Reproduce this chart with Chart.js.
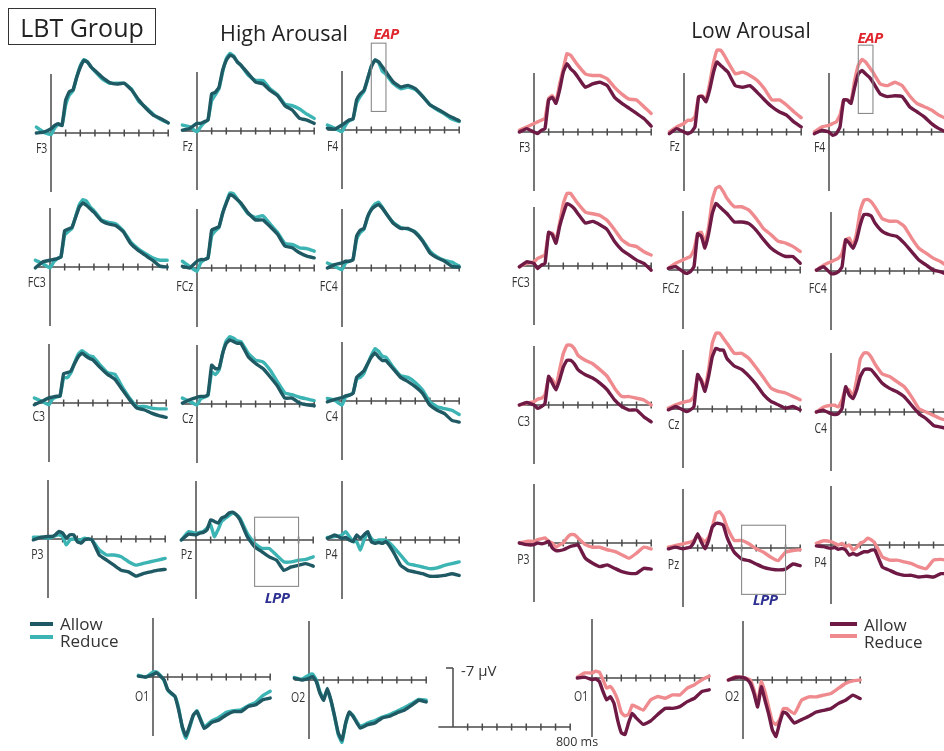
<!DOCTYPE html>
<html>
<head>
<meta charset="utf-8">
<script src="https://cdn.jsdelivr.net/npm/chart.js@4.4.1/dist/chart.umd.min.js"></script>
<style>
  html, body { margin:0; padding:0; background:#fff; }
  body { width:944px; height:751px; overflow:hidden; position:relative; font-family:"Open Sans", "Noto Sans", sans-serif; color:#2a2a2a; }
  #stage { position:absolute; left:0; top:0; width:944px; height:751px; overflow:hidden; }
  .t { position:absolute; white-space:nowrap; line-height:1; }
  .lab { position:absolute; white-space:nowrap; line-height:1; font-size:15px; color:#333; transform-origin:right center; }
  .sw { position:absolute; height:4px; }
</style>
</head>
<body>
<div id="stage"></div>
<script>
// ---------------- DATA ----------------
const TIMES = [-100,-50,0,25,50,75,100,125,150,175,200,225,250,275,300,350,400,450,500,550,600,650,700,750,800];
const TICK_MS = [100,200,300,400,500,600,700,800];
const SERIES_NAMES = ['Allow','Reduce'];
const CHANNELS = ['F3','Fz','F4','FC3','FCz','FC4','C3','Cz','C4','P3','Pz','P4','O1','O2'];
const EAP_WINDOW = [200, 300];
const LPP_WINDOW = [400, 700];

// High Arousal (µV, negative plotted up)
const HA_F3_ALLOW  = [0,-0.1,-0.5,-0.9,-1.1,-0.9,-3.9,-4.9,-5.1,-6.6,-7.8,-8.6,-8.4,-7.8,-7.4,-6.6,-6.0,-5.8,-5.9,-5.1,-3.9,-2.9,-2.1,-1.7,-1.2];
const HA_F3_REDUCE = [-0.7,-0.1,0.2,-0.6,-1.0,-0.9,-3.3,-4.5,-5.0,-6.6,-8.0,-8.7,-8.4,-7.8,-7.3,-6.4,-5.9,-5.9,-5.9,-5.2,-3.7,-3.0,-2.2,-1.6,-1.2];
const HA_FZ_ALLOW  = [-0.1,-0.3,-0.9,-0.9,-1.1,-1.3,-4.4,-4.6,-5.2,-7.2,-8.4,-9.0,-8.8,-8.2,-7.8,-6.8,-5.8,-5.6,-4.8,-4.2,-3.0,-2.5,-1.5,-1.3,-0.9];
const HA_FZ_REDUCE = [-0.7,-0.5,0.1,-0.5,-1.0,-1.3,-3.6,-4.3,-5.0,-7.0,-8.6,-9.2,-8.9,-8.2,-7.8,-6.6,-6.0,-6.0,-5.0,-4.3,-3.2,-3.0,-2.6,-2.0,-1.5];
const HA_F4_ALLOW  = [-0.2,-0.1,-0.6,-0.9,-1.2,-1.3,-3.6,-4.3,-4.7,-6.1,-7.5,-8.3,-8.1,-7.5,-6.9,-5.7,-5.1,-5.3,-4.9,-4.0,-3.0,-2.5,-2.0,-1.5,-1.1];
const HA_F4_REDUCE = [-0.6,-0.2,0.2,-0.6,-1.1,-1.3,-3.2,-4.0,-4.6,-6.0,-7.6,-8.3,-8.0,-7.0,-6.6,-5.5,-4.9,-5.1,-4.8,-4.0,-3.0,-2.4,-1.9,-1.3,-1.0];
const HA_FC3_ALLOW  = [0.1,-0.6,-0.8,-0.9,-1.0,-1.2,-4.3,-4.5,-4.7,-5.9,-7.1,-7.6,-7.3,-6.9,-6.5,-5.5,-5.1,-4.9,-4.2,-2.8,-2.0,-1.4,-0.8,-0.1,0.0];
const HA_FC3_REDUCE = [-0.8,-0.4,0.1,-0.6,-1.0,-1.2,-3.8,-4.2,-4.6,-6.0,-7.4,-8.0,-7.8,-7.1,-6.7,-5.6,-5.3,-5.1,-4.3,-3.0,-2.2,-1.6,-1.1,-0.8,-0.8];
const HA_FCZ_ALLOW  = [-0.2,0.0,-0.8,-1.0,-1.0,-1.2,-4.5,-4.7,-4.9,-6.5,-7.7,-8.7,-8.5,-8.1,-7.7,-6.5,-5.7,-5.7,-4.9,-4.0,-2.6,-2.4,-1.8,-1.4,-1.2];
const HA_FCZ_REDUCE = [-0.8,-0.2,0.4,-0.6,-1.0,-1.2,-3.8,-4.4,-4.8,-6.5,-7.8,-8.9,-8.8,-8.2,-7.6,-6.4,-6.0,-6.2,-5.2,-4.2,-2.9,-2.8,-2.4,-2.3,-2.0];
const HA_FC4_ALLOW  = [0.0,-0.4,-0.6,-0.8,-0.8,-1.0,-3.8,-4.5,-4.7,-6.1,-6.9,-7.3,-7.5,-7.1,-6.5,-5.3,-4.7,-4.7,-4.2,-3.2,-1.8,-1.2,-0.8,-0.2,-0.1];
const HA_FC4_REDUCE = [-0.6,-0.2,0.2,-0.6,-0.8,-1.0,-3.4,-4.2,-4.6,-6.0,-7.0,-7.6,-7.8,-7.2,-6.5,-5.4,-4.8,-4.6,-4.3,-3.3,-2.0,-1.3,-0.9,-0.7,-0.2];
const HA_C3_ALLOW  = [0.2,-0.2,-0.6,-0.7,-0.8,-0.8,-3.5,-3.6,-3.8,-4.7,-5.5,-5.9,-5.6,-5.3,-5.1,-4.2,-3.4,-2.8,-1.6,-0.4,0.6,0.8,1.2,1.5,1.7];
const HA_C3_REDUCE = [-0.6,-0.2,0.2,-0.5,-0.7,-0.8,-3.0,-3.0,-3.6,-4.8,-5.8,-6.2,-5.9,-5.6,-5.5,-4.5,-3.6,-3.4,-1.9,-0.6,0.4,0.4,0.6,0.7,0.7];
const HA_CZ_ALLOW  = [-0.1,-0.5,-0.8,-0.9,-0.9,-1.1,-4.6,-4.2,-4.2,-6.0,-7.2,-7.6,-7.4,-7.2,-7.2,-5.6,-4.8,-4.2,-3.2,-2.1,-0.7,-0.7,-0.1,0.1,0.2];
const HA_CZ_REDUCE = [-0.7,-0.3,0.1,-0.6,-0.8,-1.0,-3.8,-3.5,-4.0,-6.0,-7.5,-8.0,-7.8,-7.5,-7.4,-6.0,-5.2,-5.0,-4.0,-2.6,-1.3,-1.1,-0.8,-0.6,-0.4];
const HA_C4_ALLOW  = [0.1,-0.2,-0.4,-0.6,-0.7,-0.9,-2.8,-3.2,-3.6,-4.4,-5.2,-5.7,-5.2,-4.8,-4.8,-3.8,-2.8,-2.3,-1.7,-0.9,0.5,1.1,1.5,2.3,2.5];
const HA_C4_REDUCE = [-0.3,-0.1,0.5,-0.5,-0.7,-0.9,-2.6,-2.8,-3.3,-4.4,-5.4,-6.2,-5.9,-5.3,-5.2,-4.0,-3.0,-2.8,-2.2,-1.3,0.1,0.7,0.9,1.1,1.6];
const HA_P3_ALLOW  = [0.1,-0.2,-0.3,-0.3,-0.5,-0.9,-0.7,-0.1,-0.5,-0.5,0.3,0.5,0.1,0.0,0.1,1.9,2.5,3.1,3.7,3.9,4.4,4.1,3.9,3.7,3.6];
const HA_P3_REDUCE = [-0.2,-0.2,-0.1,-0.2,-0.4,-0.5,-0.3,0.7,0.1,0.0,0.1,0.1,-0.1,0.0,0.1,1.3,1.9,1.9,2.1,2.7,3.1,2.9,2.7,2.5,2.3];
const HA_PZ_ALLOW  = [0.0,-0.7,-0.6,-0.8,-0.9,-1.2,-2.4,-2.2,-2.0,-2.6,-2.8,-3.2,-3.3,-3.0,-2.4,-0.4,0.8,1.4,2.0,2.4,3.6,3.2,3.0,2.8,3.1];
const HA_PZ_REDUCE = [0.0,-1.0,-0.8,-0.9,-1.0,-1.4,-1.8,-0.4,-1.2,-2.2,-2.6,-2.9,-3.2,-3.0,-2.6,-0.8,0.4,1.0,1.0,1.8,2.6,2.6,2.4,2.3,2.0];
const HA_P4_ALLOW  = [-0.2,-0.6,-0.2,-0.3,0.0,0.2,-0.6,-0.2,-0.6,-1.0,0.2,0.4,0.3,0.4,0.2,1.4,3.0,3.6,3.8,4.0,4.3,4.3,4.2,4.0,4.2];
const HA_P4_REDUCE = [-0.3,-0.4,-0.6,-1.0,-0.4,0.2,0.2,1.2,0.0,-0.8,-0.2,0.2,0.0,0.0,0.0,0.8,1.8,2.8,3.0,3.2,3.4,3.3,3.0,2.8,2.6];
const HA_O1_ALLOW  = [-0.1,0.0,-0.3,-0.5,-0.1,0.3,1.5,1.9,2.3,3.9,5.9,7.0,5.8,4.5,4.1,6.1,5.4,5.1,4.5,4.1,4.1,3.5,3.3,2.7,2.5];
const HA_O1_REDUCE = [-0.2,0.0,-0.6,-0.6,-0.2,0.4,1.5,2.0,2.3,3.7,6.0,7.3,6.0,4.6,4.0,5.9,5.2,4.8,4.2,4.0,3.9,3.4,3.0,2.2,1.7];
const HA_O2_ALLOW  = [-0.2,0.0,-0.2,-0.4,0.2,1.6,2.4,1.0,2.4,4.3,6.3,7.1,5.1,3.8,4.3,5.7,5.3,5.1,4.5,4.3,3.9,3.6,3.0,2.4,2.6];
const HA_O2_REDUCE = [-0.3,-0.1,-0.6,-0.7,0.0,1.4,2.2,1.2,2.5,4.4,6.5,7.4,5.2,3.9,4.2,5.5,5.1,4.8,4.4,4.1,3.7,3.3,2.8,2.3,2.4];

// Low Arousal
const LA_F3_ALLOW  = [0.0,-0.4,0.0,0.2,-0.2,-0.4,-3.8,-4.1,-3.4,-5.0,-7.1,-8.1,-7.5,-7.1,-6.5,-5.3,-5.7,-5.9,-5.5,-4.1,-3.4,-2.8,-2.2,-1.6,-0.7];
const LA_F3_REDUCE = [-0.2,-0.6,-1.0,-1.2,-1.4,-1.6,-4.0,-4.3,-3.6,-5.7,-7.5,-9.3,-9.1,-8.5,-7.9,-6.9,-6.7,-6.7,-6.3,-5.3,-4.5,-3.9,-3.8,-3.0,-2.2];
const LA_FZ_ALLOW  = [0.2,-0.4,0.0,0.2,0.0,-0.6,-4.2,-4.2,-3.6,-5.0,-7.0,-8.3,-7.9,-7.5,-7.1,-5.5,-5.3,-5.5,-4.7,-3.8,-3.0,-2.4,-2.0,-1.2,-0.6];
const LA_FZ_REDUCE = [0.0,-0.6,-1.0,-1.4,-1.4,-1.8,-4.2,-4.3,-3.8,-5.7,-8.1,-9.7,-9.7,-9.1,-8.3,-6.9,-7.1,-6.7,-6.1,-5.1,-3.8,-3.8,-3.2,-2.4,-1.7];
const LA_F4_ALLOW  = [0.2,-0.2,0.0,0.4,0.2,-0.6,-3.8,-3.8,-3.4,-5.3,-6.9,-7.3,-6.9,-6.5,-5.9,-4.5,-4.2,-4.3,-4.2,-3.0,-2.4,-1.8,-1.0,-0.4,0.0];
const LA_F4_REDUCE = [0.0,-0.6,-0.8,-1.0,-1.2,-2.0,-3.8,-3.8,-3.6,-6.1,-7.9,-8.6,-8.3,-7.7,-7.1,-5.7,-5.5,-5.9,-5.5,-4.3,-3.4,-3.0,-2.6,-2.0,-1.6];
const LA_FC3_ALLOW  = [0.1,-0.5,-0.3,0.3,-0.1,-0.3,-4.0,-3.7,-2.7,-4.7,-6.2,-7.4,-7.2,-6.8,-6.2,-5.1,-5.3,-4.9,-4.3,-2.9,-1.9,-1.3,-0.7,-0.3,0.5];
const LA_FC3_REDUCE = [0.1,-0.3,-0.5,-0.9,-1.1,-1.3,-3.9,-3.9,-3.1,-5.1,-7.4,-8.6,-8.6,-8.0,-7.4,-6.4,-6.2,-6.0,-5.4,-4.3,-3.1,-2.5,-2.3,-1.7,-1.3];
const LA_FCZ_ALLOW  = [-0.2,-0.4,0.2,0.4,0.2,-0.4,-4.3,-4.0,-2.6,-4.3,-6.7,-7.9,-7.5,-7.1,-6.7,-5.7,-5.7,-5.5,-4.7,-3.6,-2.6,-2.0,-1.6,-1.6,-0.8];
const LA_FCZ_REDUCE = [-0.2,-0.8,-1.2,-1.4,-1.6,-2.4,-4.3,-4.5,-3.2,-5.1,-8.3,-9.7,-9.9,-9.3,-8.5,-7.5,-7.5,-7.1,-6.1,-4.9,-4.2,-3.4,-3.2,-2.8,-2.2];
const LA_FC4_ALLOW  = [-0.1,-0.5,0.3,0.3,0.1,-0.5,-3.7,-3.3,-2.7,-3.7,-5.5,-6.7,-6.7,-6.5,-5.7,-4.7,-4.3,-4.1,-3.3,-2.3,-1.3,-0.7,-0.1,0.1,0.5];
const LA_FC4_REDUCE = [-0.1,-0.7,-1.1,-1.3,-1.5,-2.1,-3.7,-3.9,-2.9,-4.5,-7.2,-8.4,-8.5,-8.2,-7.6,-6.2,-5.9,-5.9,-5.3,-3.9,-2.7,-2.1,-1.5,-1.1,-0.5];
const LA_C3_ALLOW  = [0.0,-0.3,0.0,0.4,0.2,-0.2,-3.4,-2.6,-1.8,-3.0,-4.5,-5.3,-5.3,-4.9,-4.2,-3.6,-3.2,-2.6,-1.8,-0.6,0.2,0.6,0.6,1.4,2.0];
const LA_C3_REDUCE = [0.0,-0.2,-0.4,-0.7,-0.8,-1.2,-3.2,-3.0,-2.2,-4.2,-6.1,-7.1,-7.1,-6.7,-5.9,-5.3,-4.9,-4.2,-3.4,-2.0,-1.0,-1.0,-0.8,-0.6,0.0];
const LA_CZ_ALLOW  = [0.1,-0.3,0.1,0.3,0.1,-0.3,-4.1,-3.3,-2.1,-3.9,-6.2,-7.2,-7.0,-7.0,-6.0,-5.1,-4.7,-3.9,-2.9,-1.7,-0.9,-0.5,-0.1,-0.3,0.1];
const LA_CZ_REDUCE = [-0.1,-0.5,-0.8,-0.9,-1.0,-1.5,-3.9,-3.5,-2.5,-4.7,-7.8,-9.0,-9.0,-8.4,-7.8,-6.6,-6.6,-6.0,-4.9,-3.7,-2.5,-2.1,-1.9,-1.5,-1.1];
const LA_C4_ALLOW  = [0.0,-0.2,0.2,0.3,0.2,-0.4,-3.0,-2.0,-1.6,-2.6,-4.2,-5.0,-5.1,-5.0,-4.5,-3.4,-2.8,-2.4,-1.8,-0.8,0.2,0.8,1.6,1.8,2.0];
const LA_C4_REDUCE = [0.0,-0.6,-0.8,-0.8,-0.6,-1.4,-2.8,-2.6,-1.8,-3.8,-6.3,-7.0,-7.0,-6.5,-5.7,-4.5,-4.2,-3.6,-3.0,-1.8,-0.4,0.0,0.4,0.8,1.0];
const LA_P3_ALLOW  = [0.0,0.2,0.2,0.0,0.1,0.0,-0.2,0.6,0.9,0.9,0.8,0.6,0.4,0.3,0.2,1.8,2.4,2.8,2.6,3.0,3.4,3.6,3.6,3.0,3.1];
const LA_P3_REDUCE = [0.0,-0.2,-0.2,-0.4,-0.5,-0.6,-0.2,0.0,0.5,0.2,0.0,-0.6,-1.0,-1.0,-0.6,0.2,0.5,0.5,0.8,1.0,1.4,1.8,1.2,0.5,0.7];
const LA_PZ_ALLOW  = [0.1,-0.1,0.1,0.0,-0.1,-0.7,-1.7,-0.7,0.1,-0.9,-2.5,-2.9,-2.9,-2.7,-1.3,0.5,1.3,1.5,1.9,2.3,2.5,2.6,2.5,1.9,2.1];
const LA_PZ_REDUCE = [-0.1,-0.3,-0.5,-0.6,-0.7,-0.9,-1.4,-1.1,-0.7,-1.3,-2.5,-4.1,-4.3,-3.7,-2.5,-0.9,-0.9,-0.5,0.1,0.5,1.1,1.5,0.5,0.3,0.2];
const LA_P4_ALLOW  = [0.1,0.2,0.4,0.3,0.5,0.4,0.6,1.2,1.0,1.2,1.0,0.8,0.8,0.6,0.6,2.6,3.0,3.4,3.6,3.6,3.8,3.7,3.8,3.4,3.4];
const LA_P4_REDUCE = [-0.2,-0.5,-0.4,-0.2,0.0,-0.2,0.2,0.0,0.6,0.3,-0.2,-0.4,-0.8,-0.6,-0.2,1.4,1.8,1.8,2.0,2.2,2.6,2.8,1.8,1.7,1.8];
const LA_O1_ALLOW  = [0.0,-0.1,0.2,0.1,0.4,1.6,2.6,2.2,3.0,5.0,6.5,6.7,5.3,4.2,4.7,5.5,5.1,4.3,3.6,3.6,3.4,2.8,2.4,1.6,1.4];
const LA_O1_REDUCE = [-0.1,-0.6,-0.6,-0.8,-0.7,0.2,1.2,1.0,1.6,2.6,4.1,4.5,4.3,3.2,3.4,3.8,2.6,2.2,2.4,2.0,2.0,1.2,0.8,0.2,-0.2];
const LA_O2_ALLOW  = [0.0,-0.3,-0.3,-0.1,0.4,1.6,3.2,0.8,2.4,4.0,5.9,6.7,5.1,3.8,4.0,5.1,4.7,4.3,3.8,3.6,3.4,2.8,2.4,1.8,2.2];
const LA_O2_REDUCE = [0.0,-0.4,-0.3,-0.2,0.0,1.2,2.8,0.2,1.4,3.2,4.9,5.3,4.7,3.4,3.4,4.0,2.4,2.0,2.0,1.8,1.6,1.0,0.4,0.1,0.0];

// ---------------- LAYOUT / STYLE ----------------
const PXMS = 0.1465;   // px per ms
const PXUV = 8.43;     // px per µV
const OFFX = 20, OFFY = 97, CW = 140, CH = 172;
const AXIS_COLOR = '#4a4a4a';
const HA_COLORS = {allow:'#1f5a64', reduce:'#3cb4b4'};
const LA_COLORS = {allow:'#6e1a45', reduce:'#ef8a8e'};

// [x of 0 ms, y of 0 µV, label dy]
const HA_POS = {F3:[51,133,15],Fz:[197,131,15],F4:[342,130,16],FC3:[50,267,15],FCz:[197,268,18],FC4:[342,268,18],
  C3:[49,403,13],Cz:[197,404,14],C4:[342,401,15],P3:[48,539,15],Pz:[196,540,14],P4:[342,540,14],O1:[153,677,19],O2:[309,680,17]};
const LA_POS = {F3:[534,132,15],Fz:[684,132,14],F4:[829,132,15],FC3:[534,266,16],FCz:[683,270,18],FC4:[831,271,17],
  C3:[534,405,16],Cz:[683,409,15],C4:[831,412,16],P3:[534,543,16],Pz:[683,548,16],P4:[831,545,17],O1:[592,678,18],O2:[743,680,16]};

const HA_DATA = {F3:[HA_F3_ALLOW,HA_F3_REDUCE],Fz:[HA_FZ_ALLOW,HA_FZ_REDUCE],F4:[HA_F4_ALLOW,HA_F4_REDUCE],
  FC3:[HA_FC3_ALLOW,HA_FC3_REDUCE],FCz:[HA_FCZ_ALLOW,HA_FCZ_REDUCE],FC4:[HA_FC4_ALLOW,HA_FC4_REDUCE],
  C3:[HA_C3_ALLOW,HA_C3_REDUCE],Cz:[HA_CZ_ALLOW,HA_CZ_REDUCE],C4:[HA_C4_ALLOW,HA_C4_REDUCE],
  P3:[HA_P3_ALLOW,HA_P3_REDUCE],Pz:[HA_PZ_ALLOW,HA_PZ_REDUCE],P4:[HA_P4_ALLOW,HA_P4_REDUCE],
  O1:[HA_O1_ALLOW,HA_O1_REDUCE],O2:[HA_O2_ALLOW,HA_O2_REDUCE]};
const LA_DATA = {F3:[LA_F3_ALLOW,LA_F3_REDUCE],Fz:[LA_FZ_ALLOW,LA_FZ_REDUCE],F4:[LA_F4_ALLOW,LA_F4_REDUCE],
  FC3:[LA_FC3_ALLOW,LA_FC3_REDUCE],FCz:[LA_FCZ_ALLOW,LA_FCZ_REDUCE],FC4:[LA_FC4_ALLOW,LA_FC4_REDUCE],
  C3:[LA_C3_ALLOW,LA_C3_REDUCE],Cz:[LA_CZ_ALLOW,LA_CZ_REDUCE],C4:[LA_C4_ALLOW,LA_C4_REDUCE],
  P3:[LA_P3_ALLOW,LA_P3_REDUCE],Pz:[LA_PZ_ALLOW,LA_PZ_REDUCE],P4:[LA_P4_ALLOW,LA_P4_REDUCE],
  O1:[LA_O1_ALLOW,LA_O1_REDUCE],O2:[LA_O2_ALLOW,LA_O2_REDUCE]};

// ---------------- PLUGIN ----------------
const erpAxes = {
  id: 'erpAxes',
  beforeDatasetsDraw(chart, args, o) {
    const {ctx} = chart; const x = chart.scales.x, y = chart.scales.y;
    ctx.save();
    ctx.strokeStyle = AXIS_COLOR; ctx.lineWidth = 1.5; ctx.lineCap = 'butt';
    const y0 = y.getPixelForValue(0), x0 = x.getPixelForValue(0);
    ctx.beginPath();
    ctx.moveTo(x.getPixelForValue(-100), y0); ctx.lineTo(x.getPixelForValue(800), y0);
    TICK_MS.forEach(t => { const px = x.getPixelForValue(t); ctx.moveTo(px, y0 - 3.5); ctx.lineTo(px, y0 + 3.5); });
    ctx.moveTo(x0, y.getPixelForValue(o.vTop)); ctx.lineTo(x0, y.getPixelForValue(o.vBottom));
    if (o.cap) { const yt = y.getPixelForValue(o.vTop); ctx.moveTo(x0 - 7, yt); ctx.lineTo(x0, yt); }
    ctx.stroke();
    ctx.restore();
  },
  afterDatasetsDraw(chart, args, o) {
    if (!o.box) return;
    const {ctx} = chart; const x = chart.scales.x, y = chart.scales.y;
    const b = o.box;
    const l = x.getPixelForValue(b.t[0]), r = x.getPixelForValue(b.t[1]);
    const t = y.getPixelForValue(b.v[0]), bt = y.getPixelForValue(b.v[1]);
    ctx.save(); ctx.strokeStyle = '#8a8a8a'; ctx.lineWidth = 1.1;
    ctx.strokeRect(l, t, r - l, bt - t); ctx.restore();
  }
};

const stage = document.getElementById('stage');

function addPanel(x0, y0, seriesList, colors, axisOpts) {
  const cv = document.createElement('canvas');
  cv.width = CW; cv.height = CH;
  cv.style.cssText = 'position:absolute;left:' + (x0 - OFFX) + 'px;top:' + (y0 - OFFY) + 'px;width:' + CW + 'px;height:' + CH + 'px;';
  stage.appendChild(cv);
  const datasets = seriesList.map((vals, i) => ({
    label: SERIES_NAMES[i],
    data: TIMES.map((t, k) => ({x: t, y: vals[k]})),
    borderColor: i === 0 ? colors.allow : colors.reduce,
    borderWidth: 3.4, pointRadius: 0, tension: 0.12,
    borderJoinStyle: 'round', borderCapStyle: 'round', fill: false
  }));
  new Chart(cv, {
    type: 'line',
    data: {datasets},
    options: {
      responsive: false, animation: false, devicePixelRatio: 1, events: [],
      layout: {padding: 0},
      plugins: {legend: {display: false}, tooltip: {enabled: false}, erpAxes: axisOpts},
      scales: {
        x: {type: 'linear', display: false, min: -OFFX / PXMS, max: (CW - OFFX) / PXMS},
        y: {type: 'linear', display: false, reverse: true, min: -OFFY / PXUV, max: (CH - OFFY) / PXUV}
      }
    },
    plugins: [erpAxes]
  });
}

function text(str, x, y, css, anchor) {
  const d = document.createElement('div');
  d.className = 't'; d.textContent = str;
  d.style.cssText += css + ';left:' + x + 'px;top:' + y + 'px;transform:translate(' + (anchor || '-50%') + ',-50%)';
  stage.appendChild(d); return d;
}
function chLabel(str, xr, yc) {
  const d = document.createElement('div');
  d.className = 'lab'; d.textContent = str;
  d.style.right = (944 - xr) + 'px'; d.style.top = (yc - 8) + 'px';
  d.style.transform = 'scaleX(0.7)';
  stage.appendChild(d);
}
function swatch(x1, x2, y, color) {
  const d = document.createElement('div');
  d.className = 'sw'; d.style.left = x1 + 'px'; d.style.width = (x2 - x1) + 'px'; d.style.top = (y - 2) + 'px'; d.style.background = color;
  stage.appendChild(d);
}

function buildGroup(POS, DATA, colors) {
  CHANNELS.forEach(ch => {
    const [x0, y0, dy] = POS[ch];
    const ax = {vTop: -7, vBottom: 7};
    if (ch === 'F4') ax.box = {t: EAP_WINDOW, v: [-10.3, -2.2]};
    if (ch === 'Pz') ax.box = {t: LPP_WINDOW, v: [-2.7, 5.5]};
    addPanel(x0, y0, DATA[ch], colors, ax);
    chLabel(ch, x0 - 4, y0 + dy);
  });
}
buildGroup(HA_POS, HA_DATA, HA_COLORS);
buildGroup(LA_POS, LA_DATA, LA_COLORS);

// scale bar panel
addPanel(453, 727, [], HA_COLORS, {vTop: -7, vBottom: 0, cap: true});

// ---------------- TEXT ----------------
const box = document.createElement('div');
box.style.cssText = 'position:absolute;left:8px;top:8px;width:148px;height:37px;border:1.5px solid #333;box-sizing:border-box;';
stage.appendChild(box);
text('LBT Group', 82, 27, 'font-size:25px;color:#222');
text('High Arousal', 284, 33, 'font-size:21.5px;color:#222');
text('Low Arousal', 751, 30, 'font-size:21px;color:#222');
text('EAP', 386, 33, 'font-size:15px;font-weight:bold;font-style:italic;color:#e0262e;letter-spacing:-0.5px');
text('EAP', 870, 37, 'font-size:15px;font-weight:bold;font-style:italic;color:#e0262e;letter-spacing:-0.5px');
text('LPP', 277, 597, 'font-size:15px;font-weight:bold;font-style:italic;color:#2e3192;letter-spacing:-0.5px');
text('LPP', 765, 599, 'font-size:15px;font-weight:bold;font-style:italic;color:#2e3192;letter-spacing:-0.5px');
text('-7 \u00b5V', 461, 670, 'font-size:15px;color:#333', '0');
text('800 ms', 577, 742, 'font-size:12.5px;color:#333');

swatch(30, 53, 624, HA_COLORS.allow); swatch(30, 53, 637, HA_COLORS.reduce);
text('Allow', 60, 623, 'font-size:17px;color:#333', '0');
text('Reduce', 60, 640, 'font-size:17px;color:#333', '0');
swatch(830, 857, 624, LA_COLORS.allow); swatch(830, 857, 636, LA_COLORS.reduce);
text('Allow', 864, 624, 'font-size:17px;color:#333', '0');
text('Reduce', 864, 641, 'font-size:17px;color:#333', '0');
</script>
</body>
</html>
